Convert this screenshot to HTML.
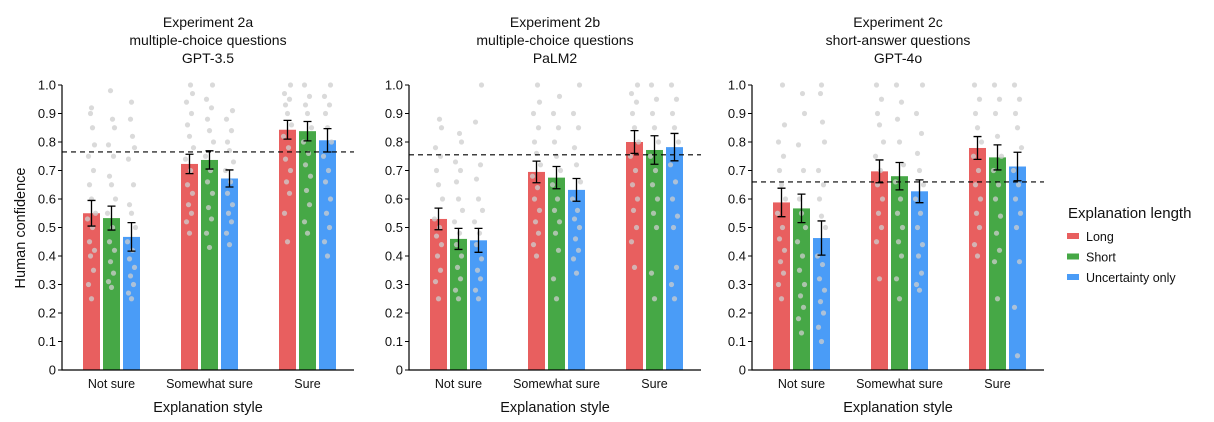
<!DOCTYPE html>
<html><head><meta charset="utf-8"><style>
body{margin:0;background:#fff;}
svg{display:block;font-family:"Liberation Sans",sans-serif;}
</style></head><body>
<svg id="chart" width="1214" height="422" viewBox="0 0 1214 422"></svg>
<script>
const categories = ["Not sure","Somewhat sure","Sure"];
const seriesNames = ["Long","Short","Uncertainty only"];
const yTicks = [0,0.1,0.2,0.3,0.4,0.5,0.6,0.7,0.8,0.9,1.0];
const yTickLabels = ["0","0.1","0.2","0.3","0.4","0.5","0.6","0.7","0.8","0.9","1.0"];
const panelTitles = [["Experiment 2a","multiple-choice questions","GPT-3.5"],["Experiment 2b","multiple-choice questions","PaLM2"],["Experiment 2c","short-answer questions","GPT-4o"]];
// means [panel][category][series]
const meansA = [[0.55,0.533,0.467],[0.723,0.737,0.672],[0.843,0.838,0.806]];
const meansB = [[0.53,0.46,0.455],[0.695,0.675,0.632],[0.80,0.772,0.782]];
const meansC = [[0.588,0.567,0.463],[0.697,0.68,0.627],[0.779,0.746,0.714]];
const errA = [[0.045,0.042,0.05],[0.034,0.032,0.03],[0.033,0.034,0.041]];
const errB = [[0.038,0.037,0.042],[0.038,0.039,0.04],[0.04,0.05,0.048]];
const errC = [[0.05,0.05,0.06],[0.04,0.048,0.04],[0.04,0.044,0.05]];
const refLines = [0.765,0.755,0.66];
const dotsA = [
 [[0.25,0.3,0.35,0.4,0.42,0.45,0.5,0.53,0.55,0.6,0.65,0.7,0.75,0.79,0.85,0.9,0.92],[0.29,0.31,0.34,0.38,0.42,0.45,0.5,0.55,0.6,0.65,0.68,0.75,0.79,0.85,0.88,0.98],[0.25,0.27,0.3,0.33,0.36,0.39,0.42,0.45,0.5,0.55,0.58,0.65,0.74,0.78,0.82,0.88,0.94]],
 [[0.48,0.52,0.55,0.58,0.62,0.65,0.7,0.74,0.78,0.82,0.86,0.9,0.94,0.97,1.0],[0.43,0.48,0.53,0.57,0.62,0.66,0.7,0.75,0.8,0.84,0.88,0.92,0.95,1.0],[0.44,0.48,0.52,0.55,0.58,0.62,0.66,0.7,0.73,0.77,0.8,0.84,0.88,0.91]],
 [[0.45,0.55,0.62,0.66,0.7,0.74,0.78,0.82,0.86,0.9,0.93,0.95,0.97,1.0],[0.48,0.52,0.58,0.63,0.68,0.72,0.76,0.8,0.85,0.9,0.93,0.96,1.0],[0.4,0.45,0.5,0.55,0.6,0.66,0.7,0.75,0.8,0.85,0.9,0.93,0.96,1.0]]];
const dotsB = [
 [[0.25,0.31,0.35,0.4,0.44,0.47,0.5,0.53,0.6,0.65,0.7,0.75,0.78,0.85,0.88],[0.25,0.28,0.32,0.36,0.4,0.44,0.48,0.52,0.56,0.6,0.66,0.7,0.73,0.8,0.83],[0.25,0.28,0.32,0.35,0.39,0.44,0.48,0.52,0.56,0.6,0.67,0.72,0.87,1.0]],
 [[0.4,0.44,0.48,0.52,0.56,0.6,0.64,0.68,0.72,0.76,0.8,0.85,0.9,0.94,1.0],[0.25,0.32,0.42,0.48,0.52,0.56,0.6,0.65,0.7,0.75,0.8,0.85,0.9,0.96],[0.34,0.39,0.42,0.46,0.5,0.53,0.56,0.6,0.66,0.72,0.78,0.85,0.9,1.0]],
 [[0.36,0.45,0.5,0.56,0.6,0.65,0.7,0.75,0.8,0.85,0.9,0.94,0.97,1.0],[0.25,0.34,0.5,0.55,0.6,0.65,0.7,0.75,0.8,0.85,0.9,0.95,1.0],[0.25,0.3,0.36,0.5,0.54,0.6,0.66,0.72,0.8,0.85,0.9,0.95,1.0]]];
const dotsC = [
 [[0.25,0.3,0.34,0.38,0.42,0.46,0.5,0.55,0.6,0.65,0.7,0.75,0.8,0.86,1.0],[0.13,0.18,0.22,0.26,0.3,0.35,0.4,0.45,0.5,0.55,0.6,0.7,0.79,0.9,0.97],[0.1,0.15,0.2,0.24,0.28,0.32,0.37,0.4,0.5,0.54,0.6,0.65,0.7,0.8,0.87,0.97,1.0]],
 [[0.32,0.45,0.5,0.55,0.6,0.65,0.7,0.75,0.8,0.86,0.9,0.95,1.0],[0.25,0.32,0.4,0.45,0.5,0.55,0.6,0.66,0.72,0.8,0.88,0.94,1.0],[0.28,0.3,0.34,0.4,0.44,0.5,0.55,0.6,0.65,0.7,0.76,0.83,0.9,1.0]],
 [[0.4,0.44,0.5,0.55,0.6,0.65,0.7,0.75,0.8,0.85,0.9,0.95,1.0],[0.25,0.38,0.42,0.48,0.54,0.6,0.65,0.7,0.75,0.82,0.9,0.95,1.0],[0.05,0.22,0.38,0.5,0.55,0.6,0.65,0.7,0.78,0.85,0.9,0.95,1.0]]];
const allMeans=[meansA,meansB,meansC], allErr=[errA,errB,errC], allDots=[dotsA,dotsB,dotsC];
const colors=["#e85f5f","#46a846","#4a9cf7"];
const panelX=[62,409,752];
const NS="http://www.w3.org/2000/svg";
const svg=document.getElementById('chart');
function mk(tag,attrs,parent,text){const e=document.createElementNS(NS,tag);for(const k in attrs)e.setAttribute(k,attrs[k]);if(text!==undefined)e.textContent=text;(parent||svg).appendChild(e);return e;}
const y0=370,yH=285;
function yS(v){return y0-v*yH;}
const jit=[0,-3,2,-1,3,-2,1,-4,4,0,-2,2,-3,3,1,-1,0];
for(let p=0;p<3;p++){
 const ax=panelX[p];
 const xS=(c,s)=>ax+21+c*98+s*20;
 const g=mk('g',{});
 
 
 panelTitles[p].forEach((t,i)=>{const e=mk('text',{x:ax+146,y:27+i*18,'text-anchor':'middle','font-size':14,fill:'#111'},g,t);
  
  });
 for(let c=0;c<3;c++)for(let s=0;s<3;s++){
  const v=allMeans[p][c][s],x=xS(c,s);
  const r=mk('rect',{x:x,y:yS(v),width:17,height:yS(0)-yS(v),fill:colors[s]},g);
  
  
  allDots[p][c][s].forEach((d,i)=>{const ci=mk('circle',{cx:x+8.5+jit[i%jit.length],cy:yS(d),r:2.6,fill:'rgba(205,205,205,0.75)'},g);
   
   });
  const e=allErr[p][c][s],cx=x+8.5;
  const eb=mk('path',{d:`M${cx},${yS(v-e)}V${yS(v+e)}M${cx-4},${yS(v-e)}H${cx+4}M${cx-4},${yS(v+e)}H${cx+4}`,stroke:'#000','stroke-width':1.3,fill:'none'},g);
  
  
 }
 const axl=mk('path',{d:`M${ax},${yS(1)}V${y0}H${ax+292}`,stroke:'#000','stroke-width':1.2,fill:'none'},g);
 
 
 yTicks.forEach((t,i)=>{mk('line',{x1:ax-4,x2:ax,y1:yS(t),y2:yS(t),stroke:'#000'},g);
  const tl=mk('text',{x:ax-6,y:yS(t)+4.5,'text-anchor':'end','font-size':13,fill:'#111'},g,yTickLabels[i]);
  
  });
 categories.forEach((c,i)=>{const t=mk('text',{x:xS(i,1)+8.5,y:388,'text-anchor':'middle','font-size':12.5,fill:'#111'},g,c);
  
  });
 const xt=mk('text',{x:ax+146,y:412,'text-anchor':'middle','font-size':14.5,fill:'#111'},g,'Explanation style');
 
 
 const rl=mk('line',{x1:ax,x2:ax+292,y1:yS(refLines[p]),y2:yS(refLines[p]),stroke:'#000','stroke-width':1.1,'stroke-dasharray':'5,4'},g);
 
 
}
const yt=mk('text',{x:0,y:0,transform:'translate(25,228) rotate(-90)','text-anchor':'middle','font-size':14.5,fill:'#111'},svg,'Human confidence');


const lg=mk('g',{});


const lt=mk('text',{x:1068,y:218,'font-size':15,fill:'#111'},lg,'Explanation length');


seriesNames.forEach((n,i)=>{const y=238+i*20.5;
 const sw=mk('rect',{x:1067,y:y-5,width:12,height:6,fill:colors[i]},lg);
 
 
 const t=mk('text',{x:1086,y:y+3,'font-size':12.5,fill:'#111'},lg,n);
 
 });
</script>
</body></html>
